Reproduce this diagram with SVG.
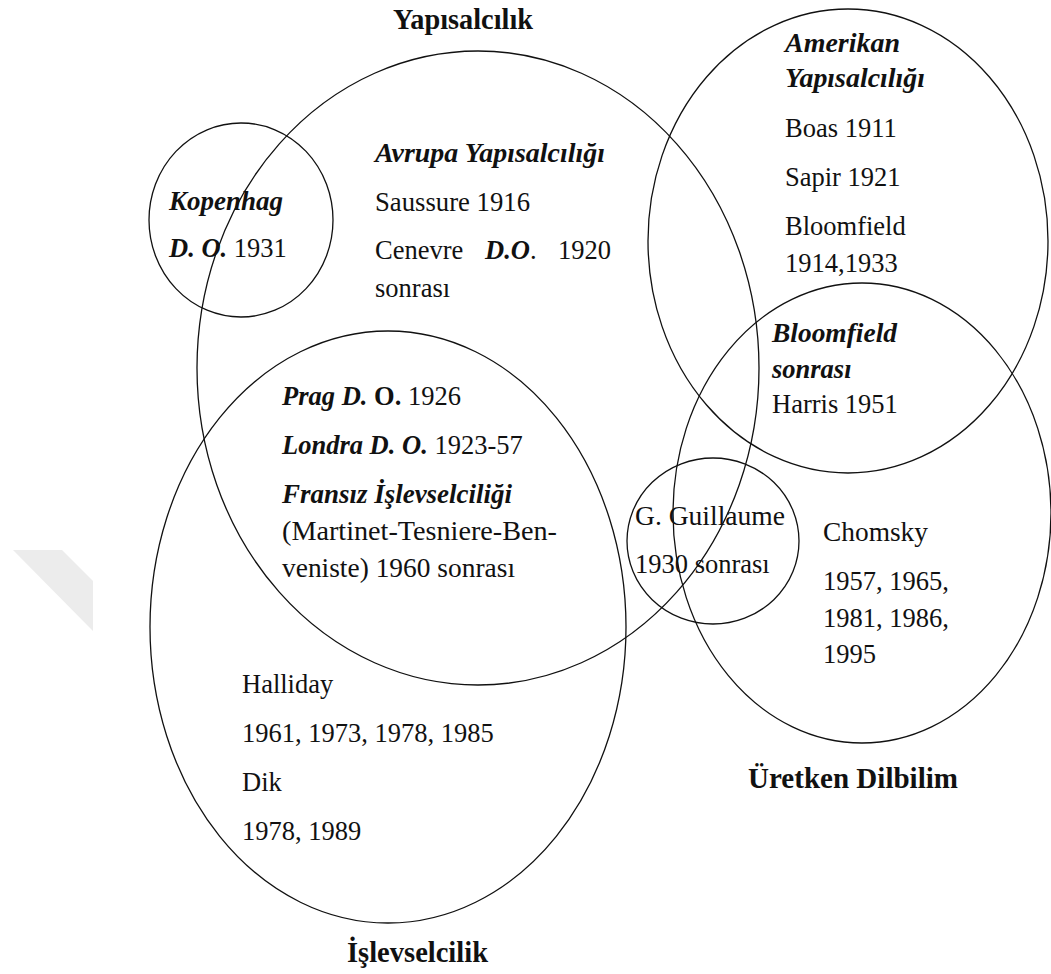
<svg xmlns="http://www.w3.org/2000/svg" width="1051" height="974" viewBox="0 0 1051 974">
  <style>
    .set { fill: none; stroke: #111; stroke-width: 1.3; }
    text { font-family: "Liberation Serif", "DejaVu Serif", serif; font-size: 26.5px; fill: #111; }
    .title { font-weight: bold; font-size: 28.5px; }
    .bi { font-weight: bold; font-style: italic; }
    .b { font-weight: bold; }
  </style>
  <rect width="1051" height="974" fill="#ffffff"/>
  <!-- faint grey band at the left margin -->
  <polygon points="13,550 62,550 93,581 93,631" fill="#ececec"/>

  <!-- set outlines -->
  <g id="connectors">
    <ellipse id="avrupa-outline" class="set" cx="478" cy="368" rx="281" ry="317"/>
    <ellipse id="kopenhag-outline" class="set" cx="241" cy="220" rx="92" ry="97"/>
    <ellipse id="islevsel-outline" class="set" cx="388" cy="627" rx="238" ry="296"/>
    <ellipse id="amerikan-outline" class="set" cx="848" cy="241" rx="200" ry="232"/>
    <ellipse id="uretken-outline" class="set" cx="862" cy="513" rx="189" ry="230"/>
    <ellipse id="guillaume-outline" class="set" cx="713" cy="541" rx="86" ry="83"/>
  </g>

  <g id="yapisalcilik-title">
    <text class="title" x="393" y="29" textLength="140" lengthAdjust="spacingAndGlyphs">Yapısalcılık</text>
  </g>

  <g id="kopenhag">
    <text class="bi" x="169" y="210" textLength="114" lengthAdjust="spacingAndGlyphs">Kopenhag</text>
    <text x="169" y="257"><tspan class="bi">D. O.</tspan> 1931</text>
  </g>

  <g id="avrupa">
    <text class="bi" x="375" y="162" textLength="230" lengthAdjust="spacingAndGlyphs">Avrupa Yapısalcılığı</text>
    <text x="375" y="211" textLength="155" lengthAdjust="spacingAndGlyphs">Saussure 1916</text>
    <text x="375" y="259">Cenevre</text>
    <text x="485" y="259"><tspan class="bi">D.O</tspan>.</text>
    <text x="558" y="259">1920</text>
    <text x="375" y="297">sonrası</text>
  </g>

  <g id="amerikan">
    <text class="bi" x="785" y="52" textLength="115" lengthAdjust="spacingAndGlyphs">Amerikan</text>
    <text class="bi" x="785" y="87" textLength="140" lengthAdjust="spacingAndGlyphs">Yapısalcılığı</text>
    <text x="785" y="137">Boas 1911</text>
    <text x="785" y="186">Sapir 1921</text>
    <text x="785" y="235">Bloomfield</text>
    <text x="785" y="272">1914,1933</text>
  </g>

  <g id="bloomfield-sonrasi">
    <text class="bi" x="772" y="342" textLength="125" lengthAdjust="spacingAndGlyphs">Bloomfield</text>
    <text class="bi" x="772" y="378">sonrası</text>
    <text x="772" y="413">Harris 1951</text>
  </g>

  <g id="avrupa-islevsel">
    <text x="282" y="405"><tspan class="bi">Prag D. </tspan><tspan class="b">O.</tspan> 1926</text>
    <text x="282" y="454"><tspan class="bi">Londra D. O.</tspan> 1923-57</text>
    <text class="bi" x="282" y="503" textLength="230" lengthAdjust="spacingAndGlyphs">Fransız İşlevselciliği</text>
    <text x="282" y="540" textLength="275" lengthAdjust="spacingAndGlyphs">(Martinet-Tesniere-Ben-</text>
    <text x="282" y="577" textLength="233" lengthAdjust="spacingAndGlyphs">veniste) 1960 sonrası</text>
  </g>

  <g id="islevsel">
    <text x="242" y="693">Halliday</text>
    <text x="242" y="742">1961, 1973, 1978, 1985</text>
    <text x="242" y="791">Dik</text>
    <text x="242" y="840">1978, 1989</text>
  </g>

  <g id="guillaume">
    <text x="635" y="525" textLength="150" lengthAdjust="spacingAndGlyphs">G. Guillaume</text>
    <text x="635" y="573">1930 sonrası</text>
  </g>

  <g id="uretken">
    <text x="823" y="541" textLength="105" lengthAdjust="spacingAndGlyphs">Chomsky</text>
    <text x="823" y="590">1957, 1965,</text>
    <text x="823" y="627">1981, 1986,</text>
    <text x="823" y="663">1995</text>
  </g>

  <g id="uretken-title">
    <text class="title" x="748" y="788" textLength="210" lengthAdjust="spacingAndGlyphs">Üretken Dilbilim</text>
  </g>

  <g id="islevselcilik-title">
    <text class="title" x="347" y="962" textLength="141" lengthAdjust="spacingAndGlyphs">İşlevselcilik</text>
  </g>
</svg>
